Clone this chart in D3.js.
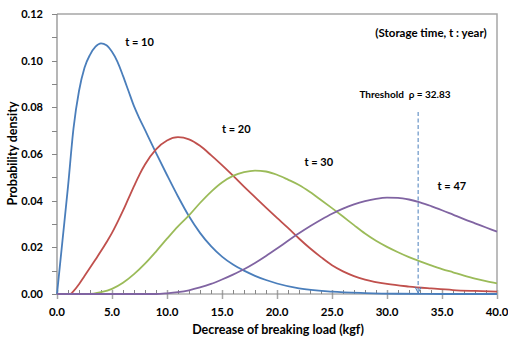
<!DOCTYPE html>
<html>
<head>
<meta charset="utf-8">
<script src="https://cdn.jsdelivr.net/npm/d3@7"></script>
<style>
  html, body { margin: 0; padding: 0; background: #fff; }
  svg { display: block; }
  text { font-family: Lato, "Open Sans", sans-serif; fill: #000; }
</style>
</head>
<body>
<svg id="chart" width="508" height="341"></svg>
<script>
// Probability density of the decrease of breaking load for each storage time
const seriesNames = ["t = 10", "t = 20", "t = 30", "t = 47"];
const seriesColors = ["#4A7EBB", "#C0504D", "#9BBB59", "#8064A2"];

const t10 = [[0,0],[0.5,0.023],[1,0.046],[1.5,0.071],[2,0.087],[2.5,0.097],[3,0.1025],[3.5,0.106],
  [4,0.1074],[4.5,0.1066],[5,0.1038],[5.5,0.0995],[6,0.0935],[6.5,0.087],[7,0.0805],[7.5,0.0752],
  [8,0.0703],[9,0.0605],[10,0.051],[11,0.0418],[12,0.0333],[13,0.0262],[14,0.0205],[15,0.016],
  [16,0.0126],[17,0.01],[18,0.0078],[19,0.006],[20,0.0045],[22,0.0024],[25,0.001],[28,0.0004],
  [31,0.0001],[35,0],[40,0]];

const t20 = [[0,0],[1,0],[1.2,0],[1.5,0.0012],[2,0.0042],[2.5,0.0077],[3,0.0112],[3.5,0.0148],
  [4,0.0184],[4.5,0.0222],[5,0.0262],[5.5,0.0308],[6,0.0357],[6.5,0.041],[7,0.0462],[7.5,0.0512],
  [8,0.0555],[9,0.062],[10,0.0658],[11,0.0672],[12,0.0663],[13,0.0635],[14,0.0595],[15,0.0552],
  [16,0.0507],[17,0.046],[18,0.0415],[19,0.037],[20,0.0326],[21,0.0283],[22,0.0238],[23,0.0196],
  [24,0.0158],[25,0.0123],[26,0.0097],[27,0.0077],[28,0.0062],[30,0.0043],[32,0.0032],[34,0.0024],
  [36,0.0017],[38,0.0013],[40,0.001]];

const t30 = [[0,0],[2.8,0],[4,0.0008],[5,0.0022],[6,0.0048],[7,0.0085],[8,0.013],[9,0.0182],
  [10,0.0237],[11,0.029],[12,0.0337],[13,0.039],[14,0.0438],[15,0.0478],[16,0.0506],[17,0.0522],
  [18,0.0529],[19,0.0525],[20,0.0511],[21,0.049],[22,0.0467],[23,0.0437],[24,0.0403],[25,0.0368],
  [26,0.0332],[27,0.0295],[28,0.0259],[29,0.0228],[30,0.0202],[31,0.0179],[32,0.0158],[33,0.014],
  [34,0.0123],[35,0.0107],[36,0.0093],[37,0.0079],[38,0.0066],[39,0.0055],[40,0.0046]];

const t47 = [[0,0],[9,0],[10,0.0003],[11,0.0008],[12,0.0016],[13,0.0028],[14,0.0043],[15,0.0062],
  [16,0.0083],[17,0.0106],[18,0.0133],[19,0.0163],[20,0.0195],[21,0.0228],[22,0.026],[23,0.029],
  [24,0.0318],[25,0.0344],[26,0.0366],[27,0.0384],[28,0.0398],[29,0.0408],[30,0.0413],[31,0.0412],
  [32,0.0405],[33,0.0393],[34,0.0377],[35,0.0359],[36,0.034],[37,0.0321],[38,0.0303],[39,0.0285],
  [40,0.0267]];

// label anchor points (x value, density) for each series name
const labelAt = [[7.5, 0.1065], [16.3, 0.0688], [23.8, 0.0548], [35.9, 0.0444]];

const xTicks = [0, 5, 10, 15, 20, 25, 30, 35, 40];
const yTicks = [0, 0.02, 0.04, 0.06, 0.08, 0.10, 0.12];
const threshold = 32.83;

const svg = d3.select("#chart");
const m = { left: 57, right: 497, top: 14, bottom: 294 };

const x = d3.scaleLinear().domain([0, 40]).range([m.left, m.right]);
const y = d3.scaleLinear().domain([0, 0.12]).range([m.bottom, m.top]);

// plot area frame (top and right edges)
svg.append("path")
  .attr("d", `M${m.left},${m.top}H${m.right}V${m.bottom}`)
  .attr("fill", "none").attr("stroke", "#a6a6a6").attr("stroke-width", 1.5);

// y axis: minor ticks every 0.01, labels every 0.02
const yAxis = svg.append("g").attr("transform", `translate(${m.left},0)`);
yAxis.append("line").attr("y1", m.top).attr("y2", m.bottom).attr("stroke", "#868686").attr("stroke-width", 1.2);
yAxis.selectAll("line.tk").data(d3.range(0, 13).map(i => i * 0.01)).join("line")
  .attr("class", "tk").attr("x1", -5).attr("x2", 0)
  .attr("y1", d => Math.round(y(d)) + 0.5).attr("y2", d => Math.round(y(d)) + 0.5)
  .attr("stroke", "#868686");
yAxis.selectAll("text").data(yTicks).join("text")
  .attr("x", -14).attr("y", d => y(d) + 4)
  .attr("text-anchor", "end").attr("font-size", 11).attr("font-weight", "bold")
  .text(d => d3.format(".2f")(d));

// x axis: minor ticks every 1 (inside), major ticks every 5 (crossing)
const xAxis = svg.append("g").attr("transform", `translate(0,${m.bottom})`);
xAxis.selectAll("line.mn").data(d3.range(0, 41)).join("line")
  .attr("class", "mn").attr("y1", -4).attr("y2", 0)
  .attr("x1", d => Math.round(x(d)) + 0.5).attr("x2", d => Math.round(x(d)) + 0.5)
  .attr("stroke", "#868686");
xAxis.selectAll("line.mj").data(xTicks).join("line")
  .attr("class", "mj").attr("y1", -4).attr("y2", 5)
  .attr("x1", d => Math.round(x(d)) + 0.5).attr("x2", d => Math.round(x(d)) + 0.5)
  .attr("stroke", "#a6a6a6").attr("stroke-width", 1.5);
xAxis.append("line").attr("x1", m.left).attr("x2", m.right).attr("stroke", "#868686").attr("stroke-width", 1.2);
xAxis.selectAll("text").data(xTicks).join("text")
  .attr("x", d => x(d)).attr("y", 22)
  .attr("text-anchor", "middle").attr("font-size", 11.5).attr("font-weight", "bold")
  .text(d => d3.format(".1f")(d));

// density curves
const line = d3.line().x(d => x(d[0])).y(d => y(d[1])).curve(d3.curveMonotoneX);
const series = [t10, t20, t30, t47];
svg.append("g").selectAll("path").data(series).join("path")
  .attr("d", line)
  .attr("fill", "none")
  .attr("stroke", (d, i) => seriesColors[i])
  .attr("stroke-width", 1.8);

// series labels
svg.append("g").selectAll("text").data(seriesNames).join("text")
  .attr("x", (d, i) => x(labelAt[i][0])).attr("y", (d, i) => y(labelAt[i][1]))
  .attr("text-anchor", "middle").attr("font-size", 11).attr("font-weight", "bold")
  .text(d => d);

// threshold marker
const tx = x(threshold);
svg.append("line")
  .attr("x1", tx).attr("x2", tx).attr("y1", 112).attr("y2", y(0) - 1)
  .attr("stroke", "#4A7EBB").attr("stroke-width", 1).attr("stroke-dasharray", "4,2.5");
svg.append("path")
  .attr("d", `M${tx - 3},${y(0) - 7}L${tx},${y(0) - 1}L${tx + 3},${y(0) - 7}`)
  .attr("fill", "none").attr("stroke", "#4A7EBB").attr("stroke-width", 1);

svg.append("text")
  .attr("x", 405).attr("y", 98).attr("text-anchor", "middle")
  .attr("font-size", 10).attr("font-weight", "bold").style("white-space", "pre")
  .text("Threshold  \u03C1 = " + threshold.toFixed(2));

svg.append("text")
  .attr("x", 431).attr("y", 37).attr("text-anchor", "middle")
  .attr("font-size", 11.5).attr("font-weight", "bold")
  .text("(Storage time, t : year)");

// axis titles
svg.append("text")
  .attr("x", 278).attr("y", 334).attr("text-anchor", "middle")
  .attr("font-size", 12.5).attr("font-weight", "bold")
  .text("Decrease of breaking load (kgf)");

svg.append("text")
  .attr("transform", "translate(17,153.5) rotate(-90)")
  .attr("text-anchor", "middle")
  .attr("font-size", 12.5).attr("font-weight", "bold")
  .text("Probability density");
</script>
</body>
</html>
